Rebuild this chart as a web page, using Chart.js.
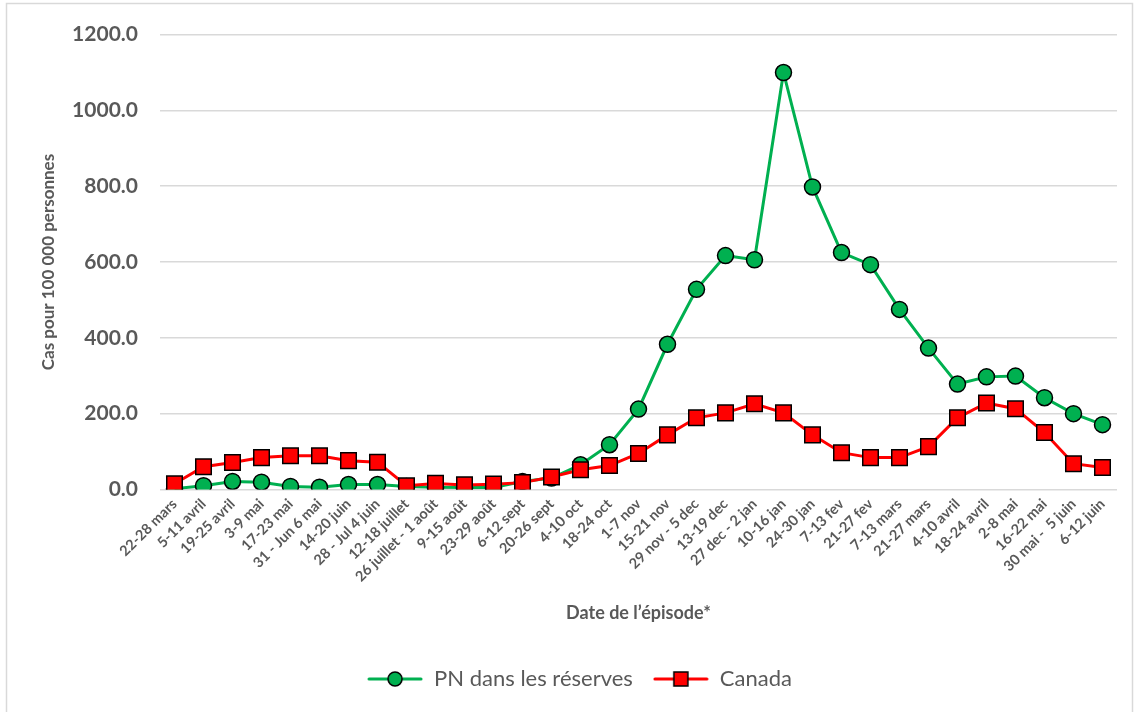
<!DOCTYPE html>
<html lang="fr">
<head>
<meta charset="utf-8">
<script src="https://cdn.jsdelivr.net/npm/chart.js@4/dist/chart.umd.min.js"></script>
<style>
  html, body { margin: 0; padding: 0; background: #fff; }
  #wrap { position: absolute; left: 0; top: 0; width: 1137px; height: 712px; }
</style>
</head>
<body>
<div id="wrap"><canvas id="casChart" width="1137" height="712"></canvas></div>
<script>
// Semaines de l'épisode
const semaines = [
  "22-28 mars", "5-11 avril", "19-25 avril", "3-9 mai", "17-23 mai", "31 - Jun 6 mai",
  "14-20 juin", "28 - Jul 4 juin", "12-18 juillet", "26 juillet - 1 août", "9-15 août",
  "23-29 août", "6-12 sept", "20-26 sept", "4-10 oct", "18-24 oct", "1-7 nov", "15-21 nov",
  "29 nov - 5 dec", "13-19 dec", "27 dec - 2 jan", "10-16 jan", "24-30 jan", "7-13 fev",
  "21-27 fev", "7-13 mars", "21-27 mars", "4-10 avril", "18-24 avril", "2-8 mai",
  "16-22 mai", "30 mai -  5 juin", "6-12 juin"
];

// Cas pour 100 000 personnes
const pnReserves = [2, 10, 21, 19, 8, 6, 13, 13, 8, 6, 5, 5, 21, 30, 65, 118, 212, 383,
  528, 617, 606, 1100, 798, 625, 593, 475, 373, 278, 297, 299, 242, 200, 171];
const canada = [15, 60, 71, 84, 89, 89, 76, 72, 10, 16, 12, 14, 18, 33, 52, 63, 95, 144,
  189, 202, 226, 202, 144, 97, 84, 84, 113, 189, 228, 213, 150, 68, 58];

const yTicks = [0, 200, 400, 600, 800, 1000, 1200];

const GRIS = '#595959';
const VERT = '#00B050';
const ROUGE = '#FF0000';
const POLICE = 'Lato, "Open Sans", sans-serif';

// petite image ligne + marqueur pour la légende
function iconeLegende(couleur, forme) {
  const c = document.createElement('canvas');
  c.width = 56; c.height = 20;
  const g = c.getContext('2d');
  g.strokeStyle = couleur;
  g.lineWidth = 3;
  g.lineCap = 'round';
  g.beginPath(); g.moveTo(2, 10); g.lineTo(54, 10); g.stroke();
  g.fillStyle = couleur;
  g.strokeStyle = '#000';
  g.lineWidth = 1.5;
  if (forme === 'circle') {
    g.beginPath(); g.arc(28, 10, 7, 0, Math.PI * 2); g.fill(); g.stroke();
  } else {
    g.fillRect(21, 3, 14, 14); g.strokeRect(21, 3, 14, 14);
  }
  return c;
}

const cadre = {
  id: 'cadre',
  beforeDraw(chart) {
    const ctx = chart.ctx;
    ctx.save();
    ctx.fillStyle = '#fff';
    ctx.fillRect(0, 0, chart.width, chart.height);
    ctx.strokeStyle = '#d9d9d9';
    ctx.lineWidth = 1.5;
    ctx.strokeRect(6.5, 3.5, 1126, 720);
    ctx.restore();
  }
};

// décale la légende un peu vers la droite, comme dans l'original
const decaleLegende = {
  id: 'decaleLegende',
  afterLayout(chart) {
    const lg = chart.legend;
    if (lg) { lg.left += 16; lg.right += 16; }
  }
};

const ctx = document.getElementById('casChart').getContext('2d');
new Chart(ctx, {
  type: 'line',
  data: {
    labels: semaines,
    datasets: [
      {
        label: 'PN dans les réserves',
        data: pnReserves,
        borderColor: VERT,
        backgroundColor: VERT,
        borderWidth: 3,
        pointStyle: 'circle',
        pointRadius: 8,
        pointBorderColor: '#000',
        pointBorderWidth: 1.5,
        pointBackgroundColor: VERT,
        tension: 0,
        order: 1
      },
      {
        label: 'Canada',
        data: canada,
        borderColor: ROUGE,
        backgroundColor: ROUGE,
        borderWidth: 3,
        pointStyle: 'rect',
        pointRadius: 11,
        pointBorderColor: '#000',
        pointBorderWidth: 1.5,
        pointBackgroundColor: ROUGE,
        tension: 0,
        order: 0
      }
    ]
  },
  options: {
    responsive: false,
    animation: false,
    layout: { padding: { left: 10, right: 20, top: 20, bottom: 12 } },
    plugins: {
      tooltip: { enabled: false },
      legend: {
        display: true,
        position: 'bottom',
        labels: {
          color: GRIS,
          font: { family: POLICE, size: 22 },
          usePointStyle: true,
          pointStyleWidth: 56,
          padding: 20,
          sort: (a, b) => a.datasetIndex - b.datasetIndex,
          generateLabels: (chart) => chart.data.datasets.map((ds, i) => ({
            text: ds.label,
            fontColor: GRIS,
            pointStyle: iconeLegende(ds.borderColor, ds.pointStyle),
            lineWidth: 0,
            strokeStyle: 'transparent',
            fillStyle: 'transparent',
            hidden: false,
            datasetIndex: i
          }))
        }
      }
    },
    scales: {
      x: {
        offset: true,
        grid: { display: false, drawTicks: false },
        border: { display: false },
        ticks: {
          color: GRIS,
          font: { family: POLICE, size: 14.5, weight: 'bold' },
          minRotation: 45,
          maxRotation: 45,
          autoSkip: false,
          padding: 6
        },
        title: {
          display: true,
          text: 'Date de l’épisode*',
          color: GRIS,
          font: { family: POLICE, size: 18, weight: 'bold' },
          padding: { top: 11, bottom: 24 }
        }
      },
      y: {
        min: 0,
        max: 1200,
        afterBuildTicks: (axis) => { axis.ticks = yTicks.map(v => ({ value: v })); },
        afterFit: (axis) => { axis.width = 150; },
        grid: { color: '#d9d9d9', lineWidth: 1.5, drawTicks: false },
        border: { display: false },
        ticks: {
          color: GRIS,
          font: { family: POLICE, size: 21, weight: 'bold' },
          padding: 22,
          callback: (v) => Number(v).toFixed(1)
        },
        title: {
          display: true,
          text: 'Cas pour 100 000 personnes',
          color: GRIS,
          font: { family: POLICE, size: 17, weight: 'bold' },
          padding: { top: 28, bottom: 8 }
        }
      }
    }
  },
  plugins: [cadre, decaleLegende]
});
</script>
</body>
</html>
